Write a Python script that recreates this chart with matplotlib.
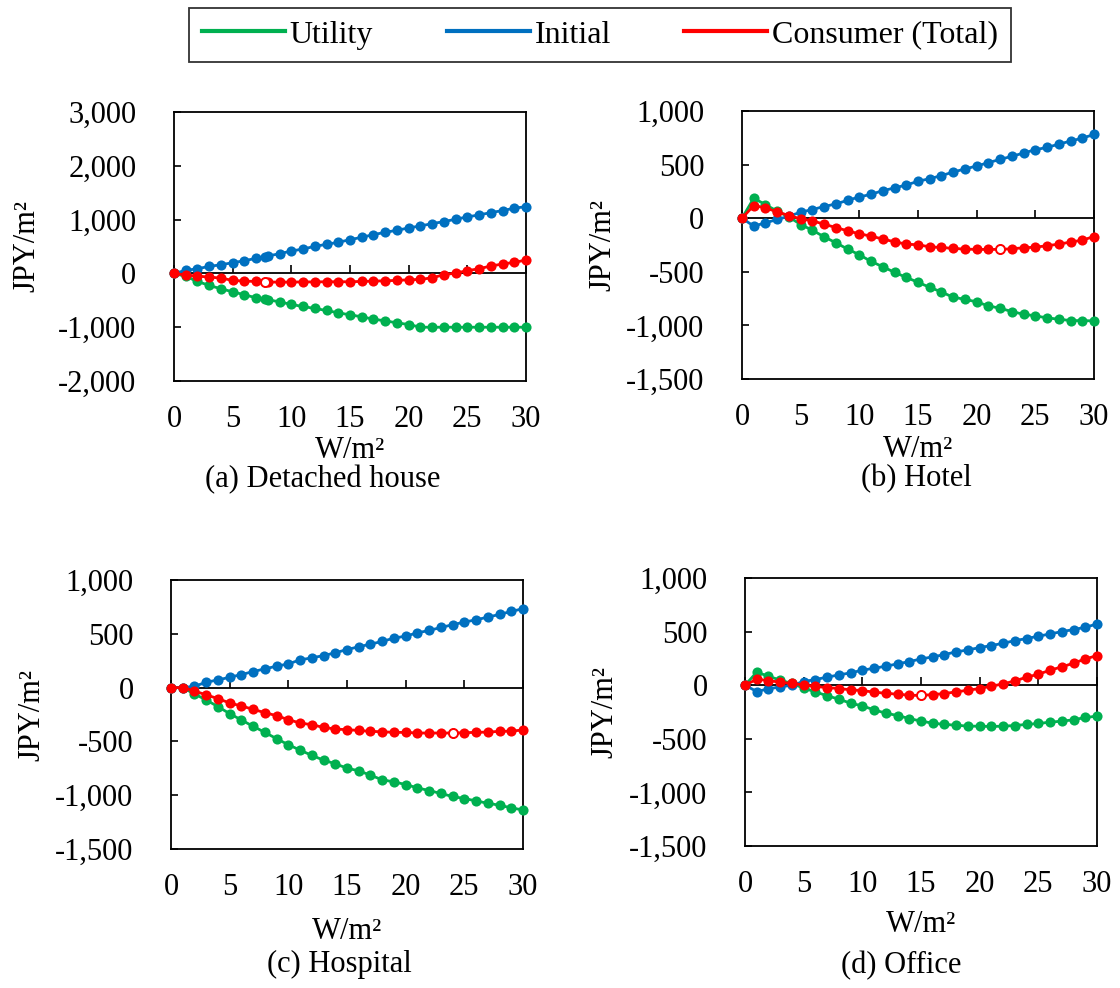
import matplotlib
matplotlib.use("Agg")
import matplotlib.pyplot as plt
from matplotlib.lines import Line2D
from matplotlib.ticker import FuncFormatter, MultipleLocator

plt.rcParams['font.family'] = ['Liberation Serif', 'DejaVu Serif']
plt.rcParams['axes.unicode_minus'] = False

# ---------------- data ----------------
series_names = ["Utility", "Initial", "Consumer (Total)"]
series_colors = ["#00B050", "#0070C0", "#FF0000"]
panel_titles = ["(a) Detached house", "(b) Hotel", "(c) Hospital", "(d) Office"]

x_regular = list(range(31))
# (a) has an extra point at the optimum (about 7.76 W/m2)
x_a = [0, 1, 2, 3, 4, 5, 6, 7, 7.76, 8, 9, 10, 11, 12, 13, 14, 15, 16, 17, 18, 19,
       20, 21, 22, 23, 24, 25, 26, 27, 28, 29, 30]

utility_a = [0, -56, -149, -224, -286, -342, -398, -453, -478, -491, -528, -578, -615,
             -652, -689, -733, -770, -807, -851, -882, -919, -950, -1000, -1000, -1000,
             -1000, -1000, -1000, -1000, -1000, -1000, -1000]
initial_a = [0, 56, 87, 130, 161, 199, 236, 280, 304, 323, 366, 416, 453, 503, 540, 578,
             627, 671, 720, 764, 801, 845, 882, 925, 963, 1006, 1050, 1087, 1130, 1168,
             1211, 1242]
consumer_a = [0, -31, -50, -68, -87, -130, -143, -149, -158, -161, -161, -161, -158,
              -158, -155, -155, -155, -149, -143, -137, -130, -118, -112, -81, -25, 6,
              50, 87, 137, 174, 205, 248]

utility_b = [0, 186, 127, 65, 12, -59, -112, -174, -229, -288, -341, -403, -453, -505,
             -552, -598, -645, -688, -738, -756, -781, -818, -840, -871, -896, -911,
             -930, -942, -955, -955, -958]
initial_b = [0, -74, -43, -12, 19, 56, 81, 109, 133, 167, 198, 223, 257, 282, 310, 344,
             369, 397, 431, 459, 487, 518, 549, 577, 608, 639, 660, 691, 719, 747, 781]
consumer_b = [0, 118, 96, 59, 25, -6, -25, -56, -87, -118, -146, -167, -195, -220, -242,
              -248, -267, -273, -282, -288, -291, -291, -291, -285, -276, -270, -257,
              -242, -223, -205, -171]

utility_c = [0, 0, -59, -115, -177, -242, -301, -360, -416, -475, -531, -581, -630,
             -674, -708, -749, -773, -814, -857, -876, -901, -932, -957, -984, -1012,
             -1031, -1053, -1075, -1093, -1118, -1137]
initial_c = [0, 0, 12, 50, 71, 96, 121, 149, 174, 199, 220, 258, 276, 298, 323, 354,
             379, 404, 429, 460, 478, 509, 531, 559, 584, 609, 630, 655, 680, 708, 733]
consumer_c = [0, 0, -31, -68, -102, -143, -171, -202, -233, -261, -298, -329, -345,
              -370, -385, -391, -398, -407, -410, -416, -416, -422, -422, -422, -422,
              -419, -416, -413, -407, -404, -394]

utility_d = [0, 121, 84, 47, 16, -28, -62, -99, -130, -168, -193, -230, -261, -283,
             -311, -335, -354, -366, -373, -382, -382, -385, -382, -376, -366, -357,
             -345, -335, -323, -301, -289]
initial_d = [0, -59, -34, -16, 0, 34, 53, 75, 96, 115, 140, 158, 177, 199, 220, 245,
             264, 286, 311, 329, 351, 370, 391, 416, 435, 457, 478, 500, 519, 540, 571]
consumer_d = [0, 56, 43, 28, 16, 3, -12, -22, -31, -43, -50, -65, -75, -84, -93, -96,
              -87, -78, -62, -47, -31, -9, 12, 40, 75, 102, 140, 171, 205, 245, 276]

# optimum (hollow marker) per panel
opt_x = [7.76, 22, 24, 15]
opt_y = [-158, -291, -422, -96]

# y axis ranges / steps per panel
y_limits = [(-2000, 3000), (-1500, 1000), (-1500, 1000), (-1500, 1000)]
y_steps = [1000, 500, 500, 500]
x_ticks = [0, 5, 10, 15, 20, 25, 30]

panels = [
    (x_a, [utility_a, initial_a, consumer_a]),
    (x_regular, [utility_b, initial_b, consumer_b]),
    (x_regular, [utility_c, initial_c, consumer_c]),
    (x_regular, [utility_d, initial_d, consumer_d]),
]

# ---------------- layout ----------------
W, H = 1120, 988
fig = plt.figure(figsize=(W / 100, H / 100), dpi=100)

# axes boxes in pixels: left, top, right, bottom
boxes = [(174, 112, 526, 381), (742, 111, 1094, 379),
         (171, 580, 523, 849), (745, 578, 1097, 846)]
title_pos = [(323, 480), (916, 479), (339, 964), (901, 966)]
ylabel_x = [27, 603, 32, 605]
xlabel_y = [450, 449, 931, 924]

FS = 22

for i, ((xs, ys), box) in enumerate(zip(panels, boxes)):
    l, t, r, b = box
    ax = fig.add_axes([l / W, 1 - b / H, (r - l) / W, (b - t) / H])
    for ser, col in zip(ys, series_colors):
        ax.plot(xs, ser, color=col, lw=2.0, marker='o', markersize=7.3,
                markeredgewidth=0, zorder=3, clip_on=False)
    ax.plot([opt_x[i]], [opt_y[i]], linestyle='none', marker='o', markersize=6.5,
            markerfacecolor='white', markeredgecolor='#FF0000', markeredgewidth=1.4,
            zorder=4, clip_on=False)

    ymin, ymax = y_limits[i]
    ax.set_xlim(0, 30)
    ax.set_ylim(ymin, ymax)
    ax.set_xticks(x_ticks)
    ax.yaxis.set_major_locator(MultipleLocator(y_steps[i]))
    ax.yaxis.set_major_formatter(FuncFormatter(lambda v, p: f"{int(round(v)):,}"))

    for sp in ax.spines.values():
        sp.set_linewidth(1.3)
        sp.set_color('black')

    ax.tick_params(axis='x', length=0, pad=17, labelsize=FS)
    ax.tick_params(axis='y', direction='in', length=5, width=1.2, pad=27,
                   labelsize=FS, right=False)

    # horizontal axis crossing at zero, with tick marks pointing up
    zero_pos = (0 - ymin) / (ymax - ymin)
    sec = ax.secondary_xaxis(zero_pos)
    sec.set_alignment('bottom')
    sec.set_xticks(x_ticks)
    sec.spines['bottom'].set_linewidth(1.3)
    sec.tick_params(axis='x', direction='in', length=6, width=1.2,
                    labelbottom=False, labeltop=False)

    ax.set_xlabel("W/m²", fontsize=FS, va='center')
    ax.xaxis.set_label_coords(0.5, -(xlabel_y[i] - b) / (b - t))
    ax.set_ylabel("JPY/m²", fontsize=FS, va='center')
    ax.yaxis.set_label_coords((ylabel_x[i] - l) / (r - l), 0.5)

    tx, ty = title_pos[i]
    fig.text(tx / W, 1 - ty / H, panel_titles[i], fontsize=FS, ha='center', va='center')

handles = [Line2D([], [], color=c, lw=3) for c in series_colors]
leg = fig.legend(handles, series_names, loc='center', bbox_to_anchor=(600 / W, 1 - 35 / H),
                 ncol=3, fontsize=23, frameon=True, fancybox=False, edgecolor='black',
                 handlelength=2.6, handletextpad=0.15, columnspacing=2.3,
                 borderpad=0.4, borderaxespad=0)
leg.get_frame().set_linewidth(1.3)

fig.savefig("out.png", dpi=100)
